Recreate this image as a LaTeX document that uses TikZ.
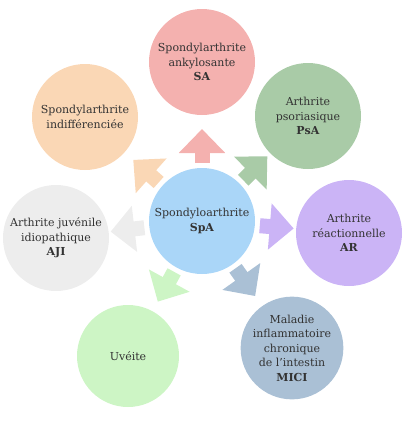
\documentclass[tikz,border=0pt]{standalone}
\usepackage{fontspec}
\setmainfont{DejaVu Serif}
\usepackage{xcolor}
\usetikzlibrary{calc,arrows.meta}
\definecolor{spaBlue}{HTML}{AAD6F8}
\definecolor{saPink}{HTML}{F4B1AF}
\definecolor{psaGreen}{HTML}{A9CBA7}
\definecolor{arLilac}{HTML}{CBB4F6}
\definecolor{miciSteel}{HTML}{AAC0D5}
\definecolor{uvMint}{HTML}{CDF5C5}
\definecolor{ajiGrey}{HTML}{EDEDED}
\definecolor{indPeach}{HTML}{FAD7B5}

\begin{document}
\begin{tikzpicture}[x=1pt,y=-1pt,
  every node/.style={font=\fontsize{11}{14.5}\selectfont,text=black!80,align=center},
  disease/.style={circle,minimum size=106pt,inner sep=0pt},
  fat/.style={#1,line width=15pt,-{Triangle[width=45pt,length=24pt]}}]
  \useasboundingbox (0,0) rectangle (404,432);
  \node[disease,fill=spaBlue] (spa) at (202,221) {Spondyloarthrite\\\textbf{SpA}};
  \node[disease,fill=saPink] (sa) at (202,62) {Spondylarthrite\\ankylosante\\\textbf{SA}};
  \node[disease,fill=psaGreen] (psa) at (308,116) {Arthrite\\psoriasique\\\textbf{PsA}};
  \node[disease,fill=arLilac] (ar) at (349,233) {Arthrite\\réactionnelle\\\textbf{AR}};
  \node[disease,fill=miciSteel,minimum size=102pt] (mici) at (292,348)
    {Maladie\\inflammatoire\\chronique\\de l'intestin\\\textbf{MICI}};
  \node[disease,fill=uvMint,minimum size=102pt] (uveite) at (128,356) {Uvéite};
  \node[disease,fill=ajiGrey] (aji) at (56,238) {Arthrite juvénile\\idiopathique\\\textbf{AJI}};
  \node[disease,fill=indPeach] (indiff) at (85,117) {Spondylarthrite\\indifférenciée};
  \draw[fat=saPink] ($(spa)!58pt!(sa)$) -- ($(spa)!92pt!(sa)$);
  \draw[fat=psaGreen] ($(spa)!58pt!(psa)$) -- ($(spa)!92pt!(psa)$);
  \draw[fat=arLilac] ($(spa)!58pt!(ar)$) -- ($(spa)!92pt!(ar)$);
  \draw[fat=miciSteel] ($(spa)!58pt!(mici)$) -- ($(spa)!92pt!(mici)$);
  \draw[fat=uvMint] ($(spa)!58pt!(uveite)$) -- ($(spa)!92pt!(uveite)$);
  \draw[fat=ajiGrey] ($(spa)!58pt!(aji)$) -- ($(spa)!92pt!(aji)$);
  \draw[fat=indPeach] ($(spa)!58pt!(indiff)$) -- ($(spa)!92pt!(indiff)$);
\end{tikzpicture}
\end{document}
